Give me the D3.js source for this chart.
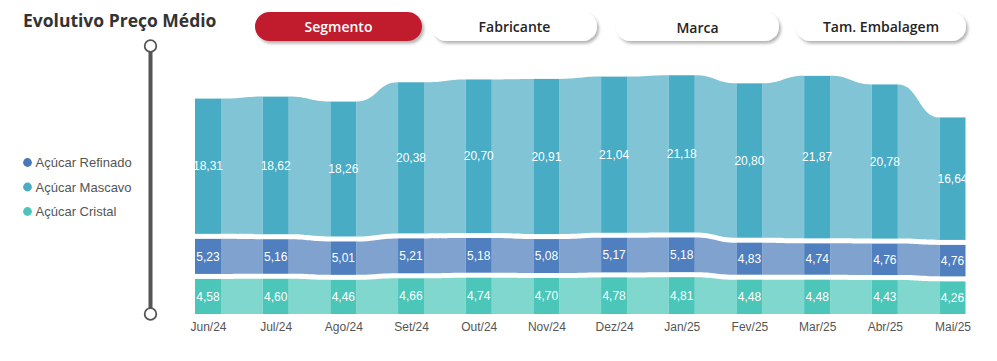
<!DOCTYPE html>
<html>
<head>
<meta charset="utf-8">
<script src="https://cdn.jsdelivr.net/npm/d3@7"></script>
<style>
  body { margin: 0; background: #fff; }
  svg { display: block; font-family: "Liberation Sans", Arial, sans-serif; }
</style>
</head>
<body>
<div id="container"></div>
<script>
// data
const months = ["Jun/24", "Jul/24", "Ago/24", "Set/24", "Out/24", "Nov/24", "Dez/24", "Jan/25", "Fev/25", "Mar/25", "Abr/25", "Mai/25"];
const cristal  = [4.58, 4.60, 4.46, 4.66, 4.74, 4.70, 4.78, 4.81, 4.48, 4.48, 4.43, 4.26];
const refinado = [5.23, 5.16, 5.01, 5.21, 5.18, 5.08, 5.17, 5.18, 4.83, 4.74, 4.76, 4.76];
const mascavo  = [18.31, 18.62, 18.26, 20.38, 20.70, 20.91, 21.04, 21.18, 20.80, 21.87, 20.78, 16.64];
const legendNames = ["Açúcar Refinado", "Açúcar Mascavo", "Açúcar Cristal"];
const buttons = ["Segmento", "Fabricante", "Marca", "Tam. Embalagem"];

const width = 997, height = 361;
const gap = 5;

// stacking order bottom -> top
const series = [
  { name: "Açúcar Cristal", values: cristal, bar: "#4cc6b9", ribbon: "#80d7cd" },
  { name: "Açúcar Refinado", values: refinado, bar: "#4f7fbe", ribbon: "#80a2cf" },
  { name: "Açúcar Mascavo", values: mascavo, bar: "#48acc5", ribbon: "#80c4d5" }
];
const legendColors = { "Açúcar Refinado": "#4a78bb", "Açúcar Mascavo": "#48acc5", "Açúcar Cristal": "#4cc6b9" };

const fmt = d3.formatLocale({ decimal: ",", thousands: ".", grouping: [3], currency: ["R$", ""] }).format(".2f");

const svg = d3.select("#container").append("svg")
  .attr("width", width)
  .attr("height", height);

const defs = svg.append("defs");
const shadow = defs.append("filter").attr("id", "shadow")
  .attr("x", "-10%").attr("y", "-30%").attr("width", "120%").attr("height", "170%");
shadow.append("feDropShadow")
  .attr("dx", 2).attr("dy", 2.5).attr("stdDeviation", 1.6)
  .attr("flood-color", "#000").attr("flood-opacity", 0.3);

// plot area clip (labels of last bar get cut at the edge)
defs.append("clipPath").attr("id", "plotClip")
  .append("rect").attr("x", 0).attr("y", 0).attr("width", 965.5).attr("height", height);

// title
svg.append("text")
  .attr("x", 23).attr("y", 27)
  .attr("font-family", "'Open Sans', sans-serif")
  .attr("font-weight", 700)
  .attr("font-size", 17.5)
  .attr("fill", "#333")
  .text("Evolutivo Preço Médio");

// buttons
const btnX = d3.scaleOrdinal().domain(buttons).range([255, 432, 616, 796]);
const btnW = d3.scaleOrdinal().domain(buttons).range([167, 165, 163, 170]);
const btn = svg.selectAll("g.btn")
  .data(buttons)
  .join("g")
  .attr("class", "btn")
  .attr("transform", d => `translate(${btnX(d)},12)`);
btn.append("rect")
  .attr("width", d => btnW(d))
  .attr("height", 29)
  .attr("rx", 14.5)
  .attr("fill", (d, i) => i === 0 ? "#c01f2f" : "#fff")
  .attr("filter", "url(#shadow)");
btn.append("text")
  .attr("x", d => btnW(d) / 2)
  .attr("y", (d, i) => i === 2 ? 21 : 20)
  .attr("text-anchor", "middle")
  .attr("font-family", "'Open Sans', sans-serif")
  .attr("font-weight", 600)
  .attr("font-size", 14)
  .attr("fill", (d, i) => i === 0 ? "#fff" : "#252423")
  .text(d => d);

// slider
svg.append("line")
  .attr("x1", 150.5).attr("x2", 150.5)
  .attr("y1", 46).attr("y2", 314)
  .attr("stroke", "#555").attr("stroke-width", 4);
svg.selectAll("circle.knob")
  .data([46, 314])
  .join("circle")
  .attr("class", "knob")
  .attr("cx", 150.5).attr("cy", d => d)
  .attr("r", 5.8)
  .attr("fill", "#fff").attr("stroke", "#555").attr("stroke-width", 1.8);

// legend
svg.selectAll(".colorCircle")
  .data(legendNames)
  .join("circle")
  .attr("class", "colorCircle")
  .attr("cx", 27.5)
  .attr("cy", (_, i) => 162.5 + i * 24.5)
  .attr("r", 4.4)
  .attr("fill", d => legendColors[d]);
svg.selectAll(".legend")
  .data(legendNames)
  .join("text")
  .attr("class", "legend")
  .attr("x", 35.5)
  .attr("y", (_, i) => 162.5 + i * 24.5)
  .attr("dy", "0.35em")
  .attr("font-size", 13)
  .attr("fill", "#555")
  .text(d => d);

// scales
const x = d3.scalePoint().domain(months).range([208, 952.5]);
const barW = 26;
const y = d3.scaleLinear().domain([0, 32]).range([314, 314 - 32 * 7.66]);

// stacked segments in pixels
const stacks = months.map((m, i) => {
  let cum = 0;
  return series.map((s, si) => {
    const v = s.values[i];
    const y0 = y(cum) - (si > 0 ? gap : 0);
    cum += v;
    const y1 = y(cum);
    return { month: m, i, si, value: v, top: y1, bottom: y0 };
  });
});

// ribbons
const ribbonPath = (a, b) => {
  const xa = x(a.month) + barW / 2;
  const xb = x(b.month) - barW / 2;
  const xm = (xa + xb) / 2;
  return `M${xa},${a.top} C${xm},${a.top} ${xm},${b.top} ${xb},${b.top}` +
    ` L${xb},${b.bottom} C${xm},${b.bottom} ${xm},${a.bottom} ${xa},${a.bottom} Z`;
};
const ribbons = [];
for (let i = 0; i < months.length - 1; i++) {
  series.forEach((s, si) => ribbons.push({ a: stacks[i][si], b: stacks[i + 1][si], color: s.ribbon }));
}
svg.append("g").selectAll("path.ribbon")
  .data(ribbons)
  .join("path")
  .attr("class", "ribbon")
  .attr("d", d => ribbonPath(d.a, d.b))
  .attr("fill", d => d.color);

// bars
const segs = stacks.flat();
svg.append("g").selectAll("rect.bar")
  .data(segs)
  .join("rect")
  .attr("class", "bar")
  .attr("x", d => x(d.month) - barW / 2)
  .attr("y", d => d.top)
  .attr("width", barW)
  .attr("height", d => d.bottom - d.top)
  .attr("fill", d => series[d.si].bar);

svg.append("g")
  .attr("clip-path", "url(#plotClip)")
  .selectAll("text.val")
  .data(segs)
  .join("text")
  .attr("class", "val")
  .attr("x", d => x(d.month))
  .attr("y", d => (d.top + d.bottom) / 2)
  .attr("dy", "0.35em")
  .attr("text-anchor", "middle")
  .attr("font-size", 12)
  .attr("fill", "#fff")
  .text(d => fmt(d.value));

// x axis labels
const xAxis = svg.append("g")
  .attr("transform", "translate(0,318)")
  .call(d3.axisBottom(x).tickSize(0).tickPadding(0));
xAxis.select(".domain").remove();
xAxis.selectAll("text")
  .attr("dy", "0")
  .attr("y", 12.7)
  .attr("font-family", "'Liberation Sans', Arial, sans-serif")
  .attr("font-size", 12)
  .attr("fill", "#555");
</script>
</body>
</html>
